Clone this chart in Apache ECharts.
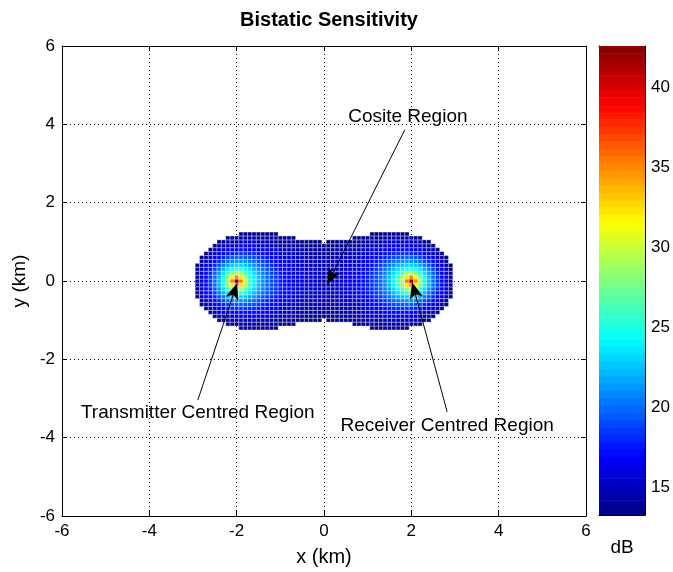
<!DOCTYPE html>
<html>
<head>
<meta charset="utf-8">
<title>Bistatic Sensitivity</title>
<script src="https://cdn.jsdelivr.net/npm/echarts@6/dist/echarts.min.js"></script>
<style>
    html, body { margin: 0; padding: 0; background: #fff; }
    #main { width: 673px; height: 572px; }
</style>
</head>
<body>
<div id="main"></div>
<script>
// axis ticks (km) and colour bar ticks (dB)
const xTicks = [-6, -4, -2, 0, 2, 4, 6];
const yTicks = [-6, -4, -2, 0, 2, 4, 6];
const cbTicks = [15, 20, 25, 30, 35, 40];

// geometry of the bistatic pair (km)
const transmitterKm = [-2, 0];
const receiverKm = [2, 0];

// sensitivity model
const dbRange = [13.3, 42.6];      // colour bar limits, region cut at the low end
const sensitivityAt1 = 27.3;       // dB where Rt*Rr = 1 km^2
const minRangeKm = 0.043;          // closest range used at the sites
const cellKm = 0.1;                // grid spacing of the plotted field

// annotations: [label, text position, arrow tail, arrow head]
const notes = [
    ['Cosite Region', [1.92, 4.19], [1.85, 3.86], [0.08, -0.08]],
    ['Transmitter Centred Region', [-2.89, -3.36], [-2.89, -3.04], [-1.99, -0.06]],
    ['Receiver Centred Region', [2.82, -3.7], [2.82, -3.34], [2.02, -0.04]]
];

// jet colour map
const jet = ['#000080', '#0000ff', '#0080ff', '#00ffff', '#80ff80',
             '#ffff00', '#ff8000', '#ff0000', '#800000'];

// field cells inside the detection region
let cells = [];
let n = Math.round(12 / cellKm);
for (let i = 0; i <= n; i++) {
    for (let j = 0; j <= n; j++) {
        let x = -6 + i * cellKm;
        let y = -6 + j * cellKm;
        let rt = Math.max(Math.hypot(x - transmitterKm[0], y - transmitterKm[1]), minRangeKm);
        let rr = Math.max(Math.hypot(x - receiverKm[0], y - receiverKm[1]), minRangeKm);
        let db = sensitivityAt1 - 20 * Math.log10(rt * rr);
        if (db > dbRange[0] + 0.03) {
            cells.push([+x.toFixed(3), +y.toFixed(3), Math.min(db, dbRange[1])]);
        }
    }
}

// 64 bands of the colour bar
let bands = [];
for (let k = 0; k < 64; k++) {
    let lo = dbRange[0] + k * (dbRange[1] - dbRange[0]) / 64;
    let hi = lo + (dbRange[1] - dbRange[0]) / 64;
    bands.push([0, lo, hi, (lo + hi) / 2]);
}

const font = 'Liberation Sans, Arial, sans-serif';
const black = '#000';

let chart = echarts.init(document.getElementById('main'));
chart.setOption({
    animation: false,
    backgroundColor: '#fff',
    title: {
        text: 'Bistatic Sensitivity',
        left: 324,
        textAlign: 'center',
        top: 5,
        textStyle: { fontFamily: font, fontSize: 20, fontWeight: 'bold', color: black }
    },
    grid: [
        { left: 62, right: 87, top: 46, bottom: 56 },
        { left: 599, right: 28, top: 46, bottom: 57 }
    ],
    visualMap: [
        { type: 'continuous', show: false, min: dbRange[0], max: dbRange[1], dimension: 2, seriesIndex: 0, inRange: { color: jet } },
        { type: 'continuous', show: false, min: dbRange[0], max: dbRange[1], dimension: 3, seriesIndex: 1, inRange: { color: jet } }
    ],
    xAxis: [
        {
            type: 'value', gridIndex: 0, min: -6, max: 6, interval: 2, position: 'bottom',
            name: 'x (km)', nameLocation: 'middle', nameGap: 31,
            nameTextStyle: { fontFamily: font, fontSize: 20, color: black },
            axisLine: { show: true, onZero: false, lineStyle: { color: black } },
            axisTick: { show: true, inside: true, length: 5, lineStyle: { color: black } },
            axisLabel: { fontFamily: font, fontSize: 17, color: black, margin: 7, showMinLabel: true, showMaxLabel: true },
            splitLine: { show: true, lineStyle: { color: black, type: [1, 3], width: 1 } }
        },
        {
            type: 'value', gridIndex: 0, min: -6, max: 6, interval: 2, position: 'top',
            axisLine: { show: true, onZero: false, lineStyle: { color: black } },
            axisTick: { show: true, inside: true, length: 5, lineStyle: { color: black } },
            axisLabel: { show: false },
            splitLine: { show: false }
        },
        {
            type: 'value', gridIndex: 1, min: 0, max: 1, position: 'bottom',
            name: 'dB', nameLocation: 'middle', nameGap: 23,
            nameTextStyle: { fontFamily: font, fontSize: 19, color: black },
            axisLine: { show: true, onZero: false, lineStyle: { color: black } },
            axisTick: { show: false }, axisLabel: { show: false }, splitLine: { show: false }
        },
        {
            type: 'value', gridIndex: 1, min: 0, max: 1, position: 'top',
            axisLine: { show: true, onZero: false, lineStyle: { color: black } },
            axisTick: { show: false }, axisLabel: { show: false }, splitLine: { show: false }
        }
    ],
    yAxis: [
        {
            type: 'value', gridIndex: 0, min: -6, max: 6, interval: 2, position: 'left',
            name: 'y (km)', nameLocation: 'middle', nameGap: 33, nameRotate: 90,
            nameTextStyle: { fontFamily: font, fontSize: 19, color: black },
            axisLine: { show: true, onZero: false, lineStyle: { color: black } },
            axisTick: { show: true, inside: true, length: 5, lineStyle: { color: black } },
            axisLabel: { fontFamily: font, fontSize: 17, color: black, margin: 7 },
            splitLine: { show: true, lineStyle: { color: black, type: [1, 3], width: 1 } }
        },
        {
            type: 'value', gridIndex: 0, min: -6, max: 6, interval: 2, position: 'right',
            axisLine: { show: true, onZero: false, lineStyle: { color: black } },
            axisTick: { show: true, inside: true, length: 5, lineStyle: { color: black } },
            axisLabel: { show: false },
            splitLine: { show: false }
        },
        {
            type: 'value', gridIndex: 1, min: dbRange[0], max: dbRange[1], position: 'left',
            axisLine: { show: true, onZero: false, lineStyle: { color: black } },
            axisTick: { show: true, inside: true, length: 4, customValues: cbTicks, lineStyle: { color: black } },
            axisLabel: { show: false },
            splitLine: { show: false }
        },
        {
            type: 'value', gridIndex: 1, min: dbRange[0], max: dbRange[1], position: 'right',
            axisLine: { show: true, onZero: false, lineStyle: { color: black } },
            axisTick: { show: true, inside: true, length: 4, customValues: cbTicks, lineStyle: { color: black } },
            axisLabel: { fontFamily: font, fontSize: 17, color: black, margin: 6, customValues: cbTicks },
            splitLine: { show: false }
        }
    ],
    series: [
        {
            type: 'custom',
            xAxisIndex: 0,
            yAxisIndex: 0,
            dimensions: ['x', 'y', 'db'],
            encode: { x: 0, y: 1 },
            data: cells,
            z: 2,
            renderItem: function (params, api) {
                let p = api.coord([api.value(0) - cellKm / 2, api.value(1) + cellKm / 2]);
                let s = api.size([cellKm, cellKm]);
                return {
                    type: 'rect',
                    shape: { x: p[0], y: p[1], width: s[0], height: s[1] },
                    style: { fill: api.visual('color'), stroke: 'rgba(255,255,255,0.45)', lineWidth: 0.8 }
                };
            }
        },
        {
            type: 'custom',
            xAxisIndex: 2,
            yAxisIndex: 2,
            dimensions: ['x', 'lo', 'hi', 'mid'],
            encode: { x: 0, y: [1, 2] },
            data: bands,
            renderItem: function (params, api) {
                let top = api.coord([0, api.value(2)]);
                let bottom = api.coord([1, api.value(1)]);
                return {
                    type: 'rect',
                    shape: { x: top[0], y: top[1], width: bottom[0] - top[0], height: bottom[1] - top[1] + 0.5 },
                    style: { fill: api.visual('color') }
                };
            }
        },
        {
            type: 'scatter',
            xAxisIndex: 0,
            yAxisIndex: 0,
            symbolSize: 0,
            z: 5,
            itemStyle: { opacity: 1 },
            data: notes.map(d => ({ name: d[0], value: d[1] })),
            label: {
                show: true,
                position: 'inside',
                formatter: '{b}',
                fontFamily: font,
                fontSize: 19,
                color: '#000000',
                opacity: 1
            },
            markLine: {
                silent: true,
                symbol: ['none', 'arrow'],
                symbolSize: [10, 16],
                label: { show: false },
                lineStyle: { color: black, width: 1, type: 'solid', opacity: 1 },
                data: notes.map(d => [{ coord: d[2] }, { coord: d[3] }])
            }
        }
    ]
});
</script>
</body>
</html>
